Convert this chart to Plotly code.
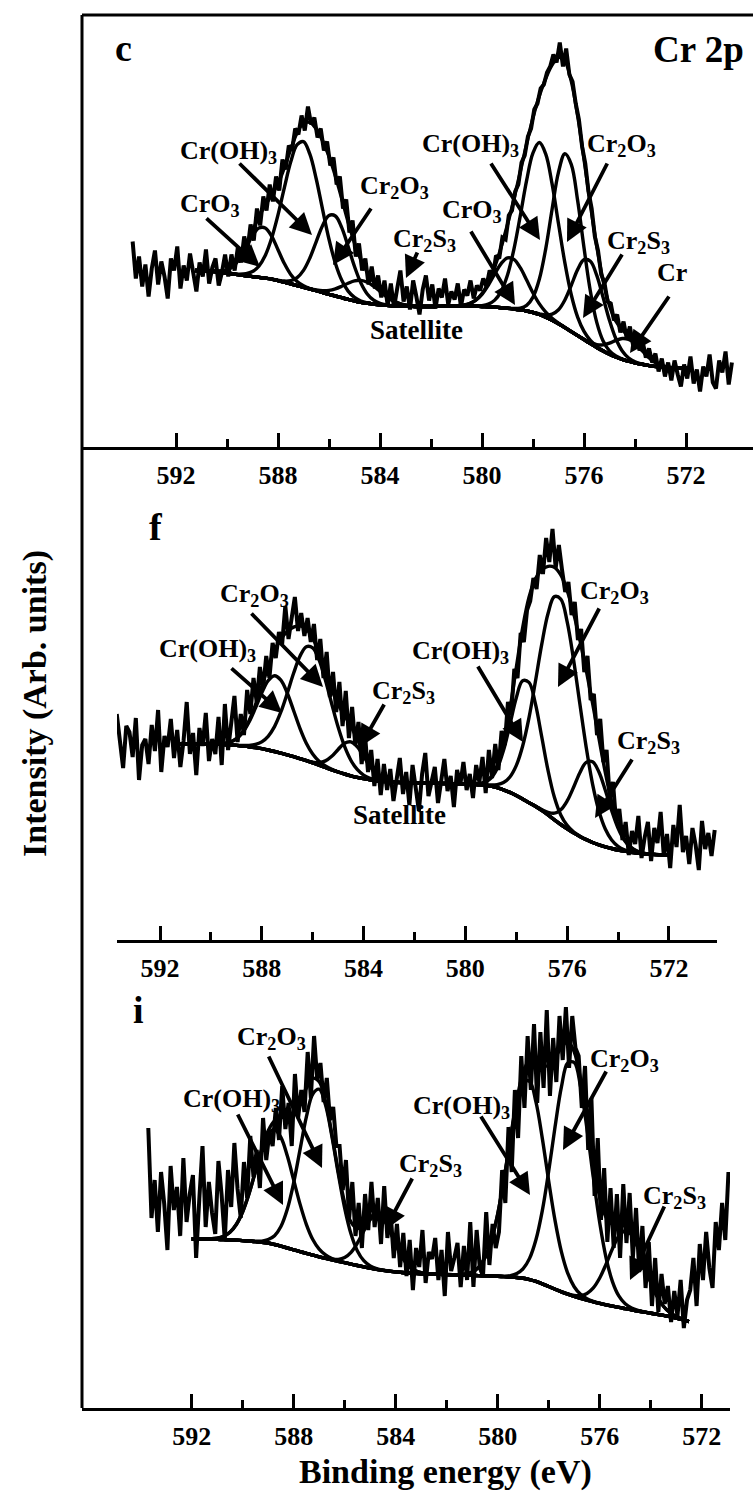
import numpy as np
import plotly.graph_objects as go

W, H = 753, 1498
SERIF = "Liberation Serif, Times New Roman, serif"

# ---------------- measured spectra (counts, arb. units) ----------------
E_START = 593.7     # eV, first channel
E_STEP = 0.125      # eV per channel

TOP_COUNTS = [
    205, 168, 190, 160, 182, 150, 178, 196, 162, 185, 170, 148, 188, 176, 200, 158, 181, 166, 193, 172,
    155, 184, 170, 197, 163, 179, 188, 161, 174, 192,
    170, 192, 176, 199, 184, 210, 196, 222, 206, 238,
    221, 250, 236, 262, 245, 270, 256, 287, 277, 301,
    296, 318, 312, 331, 316, 340, 322, 329, 309, 318,
    296, 305, 281, 289, 262, 270, 238, 247, 214, 226,
    190, 203, 176, 188, 162, 180, 158, 171, 149, 166,
    141, 163, 139, 158, 176, 145, 160, 137, 166, 150,
    132, 157, 171, 146, 162, 138, 158, 149, 168, 142,
    155, 147, 163, 140, 157, 151, 166, 148, 161, 156,
    168, 160, 176, 170, 191, 188, 209, 207, 231, 236,
    255, 262, 284, 291, 310, 318, 337, 343, 358, 362,
    374, 380, 392, 384, 404, 380, 398, 372, 365, 343,
    327, 300, 283, 255, 238, 210, 196, 172, 164, 145,
    143, 126, 132, 114, 125, 108, 120, 101, 113, 96,
    105, 89, 98, 84, 93, 75, 88, 70, 84, 66,
    86, 72, 60, 82, 68, 90, 63, 77, 55, 80,
    70, 92, 64, 58, 86, 74, 95, 62, 84,
]

MID_COUNTS = [
    226, 198, 172, 214, 208, 183, 222, 160, 195, 201,
    176, 215, 189, 230, 168, 204, 193, 221, 182, 210,
    173, 199, 238, 186, 207, 165, 212, 194, 227, 179,
    201, 186, 223, 175, 236, 190, 214, 244, 198, 226,
    205, 250, 226, 262, 238, 273, 251, 284, 262, 297,
    282, 308, 296, 334, 301, 320, 343, 309, 327, 304,
    322, 298, 316, 280, 301, 262, 288, 243, 268, 228,
    258, 214, 249, 202, 233, 195, 218, 176, 207, 168,
    190, 154, 181, 145, 176, 150, 171, 139, 163, 182,
    146, 168, 135, 175, 152, 129, 166, 187, 144, 160,
    173, 137, 158, 181, 149, 164, 133, 170, 155, 178,
    150, 166, 142, 175, 158, 183, 147, 190, 162, 196,
    170, 209, 195, 238, 225, 271, 262, 307, 298, 330,
    339, 362, 351, 385, 366, 402, 378, 411, 372, 395,
    370, 348, 358, 325, 338, 300, 311, 268, 284, 240,
    246, 205, 221, 178, 190, 142, 158, 118, 131, 100,
    118, 85, 109, 96, 124, 82, 103, 118, 79, 112,
    97, 128, 84, 106, 72, 115, 93, 135, 88, 104,
    76, 112, 95, 70, 119, 91, 107, 84, 110,
]

BOT_COUNTS = [
    280, 190, 228, 176, 236, 204, 158, 242, 198, 221,
    172, 250, 186, 214, 233, 150, 209, 262, 181, 226,
    195, 174, 247, 213, 168, 238, 201, 265, 219, 190,
    246, 210, 272, 231, 258, 220, 290, 248, 276, 262,
    300, 268, 322, 279, 305, 262, 334, 290, 318, 296,
    356, 310, 372, 328, 345, 306, 330, 288, 301, 262,
    262, 218, 248, 190, 226, 172, 205, 160, 214, 178,
    226, 181, 210, 164, 222, 170, 196, 150, 184, 141,
    175, 132, 168, 118, 160, 141, 178, 125, 156, 149,
    170, 128, 158, 112, 176, 137, 150, 165, 121, 162,
    128, 186, 121, 178, 140, 132, 196, 143, 184, 160,
    176, 238, 205, 281, 236, 318, 270, 352, 300, 372,
    318, 384, 305, 376, 320, 398, 312, 370, 326, 392,
    348, 401, 340, 392, 360, 352, 300, 342, 258, 310,
    212, 270, 188, 240, 166, 220, 160, 214, 150, 224,
    165, 215, 150, 200, 136, 182, 120, 166, 102, 150,
    96, 134, 104, 122, 86, 117, 92, 128, 80, 108,
    118, 150, 102, 164, 128, 176, 140, 120, 186, 158,
    205, 168, 236,
]

# ---------------- curve fits ----------------
FIT_STEP = 0.25     # eV between background nodes

# background (Shirley type) over each fit window, from high to low binding energy
TOP_FIT_START = 591.25
TOP_BACKGROUND = [
    176.0, 175.9, 175.5, 175.0, 174.3, 173.4, 172.5, 171.6, 170.8, 169.9,
    169.1, 168.3, 167.4, 165.9, 164.3, 162.6, 160.9, 159.2, 157.5, 155.8,
    154.0, 152.2, 150.5, 148.8, 147.1, 145.6, 144.2, 143.2, 142.4, 141.7,
    141.1, 140.7, 140.6, 140.3, 140.1, 140.0, 140.0, 140.0, 140.1, 140.2,
    140.3, 140.4, 140.4, 140.3, 140.2, 140.0, 139.7, 139.3, 138.8, 138.2,
    137.5, 136.6, 135.5, 134.0, 132.0, 129.4, 126.3, 122.7, 118.9, 114.9,
    110.9, 106.9, 102.9, 99.0, 95.4, 92.2, 89.5, 87.2, 85.3, 83.7,
    82.3, 81.1, 80.1, 79.4, 78.9, 78.5, 78.2, 78.0, 77.9,
]
MID_FIT_START = 591.5
MID_BACKGROUND = [
    196.3, 196.3, 196.3, 196.3, 196.2, 196.1, 196.0, 195.8, 195.5, 195.1,
    194.6, 194.0, 193.3, 192.4, 191.3, 190.0, 188.5, 186.9, 185.2, 183.4,
    181.4, 179.3, 177.1, 174.8, 172.5, 170.2, 168.0, 166.0, 164.2, 162.6,
    161.3, 160.2, 159.3, 158.6, 158.1, 157.7, 157.4, 157.2, 157.0, 156.9,
    156.8, 156.7, 156.6, 156.5, 156.4, 156.3, 156.1, 155.8, 155.3, 154.8,
    153.8, 152.3, 150.2, 147.6, 144.5, 141.0, 137.3, 133.7, 129.6, 125.0,
    120.1, 115.5, 111.2, 107.1, 103.6, 100.4, 97.5, 95.2, 93.2, 91.5,
    90.0, 88.8, 87.8, 87.0, 86.3, 85.8, 85.4, 85.1, 84.9,
]
BOT_FIT_START = 592.0
BOT_BACKGROUND = [
    169.0, 169.0, 168.9, 168.8, 168.6, 168.4, 168.1, 167.8, 167.4, 166.9,
    166.4, 165.7, 165.0, 163.5, 161.8, 160.0, 158.2, 156.4, 154.6, 152.8,
    151.2, 149.7, 148.2, 146.7, 145.3, 143.9, 142.5, 141.1, 139.8, 138.6,
    137.6, 136.8, 136.1, 135.5, 135.0, 134.6, 134.3, 134.0, 133.8, 133.6,
    133.4, 133.2, 133.0, 132.8, 132.6, 132.4, 132.2, 132.0, 131.7, 131.4,
    131.0, 130.5, 129.7, 128.4, 126.6, 124.2, 121.5, 118.8, 116.2, 113.8,
    111.6, 109.6, 107.8, 106.1, 104.6, 103.2, 101.9, 100.6, 99.4, 98.2,
    97.0, 95.9, 94.8, 93.7, 92.6, 91.4, 90.0, 88.3, 86.3,
]

# Gaussian components: centre (eV), height above background, FWHM (eV)
TOP_LABELS = ["Cr(OH)3", "Cr2O3", "CrO3", "Cr2S3", "Cr", "Cr(OH)3", "Cr2O3", "CrO3", "Cr2S3"]
TOP_CENTERS = [577.73, 576.68, 578.90, 575.83, 574.30, 587.05, 585.85, 588.60, 584.70]
TOP_HEIGHTS = [172, 175, 51, 83, 22, 146, 81, 51, 22]
TOP_FWHM = [1.65, 1.41, 1.53, 1.46, 1.41, 1.77, 1.53, 1.41, 1.65]

MID_LABELS = ["Cr(OH)3", "Cr2O3", "Cr2S3", "Cr(OH)3", "Cr2O3", "Cr2S3"]
MID_CENTERS = [577.60, 576.35, 575.05, 587.45, 586.10, 584.50]
MID_HEIGHTS = [122, 227, 81, 76, 116, 34]
MID_FWHM = [1.41, 1.93, 1.53, 1.65, 1.88, 1.30]

BOT_LABELS = ["Cr(OH)3", "Cr2O3", "Cr2S3", "Cr(OH)3", "Cr2O3", "Cr2S3"]
BOT_CENTERS = [578.85, 577.10, 574.95, 588.75, 587.05, 584.70]
BOT_HEIGHTS = [200, 236, 78, 115, 168, 55]
BOT_FWHM = [1.77, 1.77, 1.65, 1.77, 1.65, 1.41]

panels = [
    dict(counts=TOP_COUNTS, fit0=TOP_FIT_START, bg=TOP_BACKGROUND,
         c=TOP_CENTERS, h=TOP_HEIGHTS, w=TOP_FWHM),
    dict(counts=MID_COUNTS, fit0=MID_FIT_START, bg=MID_BACKGROUND,
         c=MID_CENTERS, h=MID_HEIGHTS, w=MID_FWHM),
    dict(counts=BOT_COUNTS, fit0=BOT_FIT_START, bg=BOT_BACKGROUND,
         c=BOT_CENTERS, h=BOT_HEIGHTS, w=BOT_FWHM),
]

fig = go.Figure()
for i, p in enumerate(panels):
    xa = "x" if i == 0 else f"x{i + 1}"
    ya = "y" if i == 0 else f"y{i + 1}"
    bg = np.asarray(p["bg"], float)
    e_fit = p["fit0"] - FIT_STEP * np.arange(len(bg))
    thin = dict(color="black", width=3.4, shape="spline")
    fig.add_trace(go.Scatter(x=e_fit, y=bg, mode="lines", line=thin, xaxis=xa, yaxis=ya))
    total = np.zeros_like(bg)
    for c, h, w in zip(p["c"], p["h"], p["w"]):
        sigma = w / 2.3548
        peak = h * np.exp(-0.5 * ((e_fit - c) / sigma) ** 2)
        total += peak
        fig.add_trace(go.Scatter(x=e_fit, y=bg + peak, mode="lines", line=thin, xaxis=xa, yaxis=ya))
    fig.add_trace(go.Scatter(x=e_fit, y=bg + total, mode="lines", line=thin, xaxis=xa, yaxis=ya))
    counts = np.asarray(p["counts"], float)
    energy = E_START - E_STEP * np.arange(len(counts))
    fig.add_trace(go.Scatter(x=energy, y=counts, mode="lines",
                             line=dict(color="black", width=4), xaxis=xa, yaxis=ya))


def fy(py):
    return 1 - py / H


TICK_MAJOR = [592, 588, 584, 580, 576, 572]
TICK_MINOR = [590, 586, 582, 578, 574]


def xaxis(dom, rng, anchor):
    return dict(domain=[dom[0] / W, dom[1] / W], range=rng, anchor=anchor,
                showline=True, linewidth=3, linecolor="black", mirror=False,
                ticks="inside", ticklen=14, tickwidth=3, tickcolor="black",
                tickvals=TICK_MAJOR, ticktext=[f"<b>{t}</b>" for t in TICK_MAJOR],
                minor=dict(tickvals=TICK_MINOR, ticks="inside", ticklen=8, tickwidth=3,
                           tickcolor="black"),
                tickfont=dict(family=SERIF, size=26, color="black"),
                ticklabelstandoff=3, showgrid=False, zeroline=False)


def yaxis(top, bottom, anchor):
    return dict(domain=[fy(bottom), fy(top)], range=[0, bottom - top], anchor=anchor,
                visible=False)


fig.update_layout(
    width=W, height=H, margin=dict(l=0, r=0, t=0, b=0),
    paper_bgcolor="white", plot_bgcolor="rgba(0,0,0,0)", showlegend=False,
    xaxis=xaxis((82, 753), [595.686, 569.373], "y"),
    yaxis=yaxis(15, 446.5, "x"),
    xaxis2=xaxis((117, 717), [593.69, 570.11], "y2"),
    yaxis2=yaxis(446.5, 940, "x2"),
    xaxis3=xaxis((82, 730), [596.30, 570.89], "y3"),
    yaxis3=yaxis(940, 1408, "x3"),
)

# frame: left edge and top edge
fig.add_shape(type="line", xref="paper", yref="paper", x0=82 / W, x1=82 / W, y0=fy(15), y1=fy(1408),
              line=dict(color="black", width=3))
fig.add_shape(type="line", xref="paper", yref="paper", x0=82 / W, x1=1, y0=fy(15), y1=fy(15),
              line=dict(color="black", width=3))


def label(px, py, text, size=26):
    fig.add_annotation(x=px / W, y=fy(py), xref="paper", yref="paper", text=f"<b>{text}</b>",
                       showarrow=False, font=dict(family=SERIF, size=size, color="black"),
                       xanchor="center", yanchor="middle")


def arrow(x0, y0, x1, y1):
    fig.add_annotation(x=x1 / W, y=fy(y1), ax=x0 - x1, ay=y0 - y1, xref="paper", yref="paper",
                       text="", showarrow=True, arrowhead=2, arrowsize=1.15, arrowwidth=3.8,
                       arrowcolor="black", standoff=0, startstandoff=0)


CROH = "Cr(OH)<sub>3</sub>"
CR2O3 = "Cr<sub>2</sub>O<sub>3</sub>"
CRO3 = "CrO<sub>3</sub>"
CR2S3 = "Cr<sub>2</sub>S<sub>3</sub>"

label(123, 48, "c", 38)
label(698, 50, "Cr 2p", 37)
label(210, 205, CRO3); arrow(205, 217, 260, 267)
label(228, 152, CROH); arrow(238, 162, 312, 235)
label(394, 187, CR2O3); arrow(372, 207, 333, 265)
label(424, 240, CR2S3); arrow(418, 251, 406, 278)
label(417, 330, "Satellite", 27)
label(470, 145, CROH); arrow(490, 162, 540, 240)
label(621, 145, CR2O3); arrow(608, 162, 567, 242)
label(472, 211, CRO3); arrow(470, 230, 515, 305)
label(638, 242, CR2S3); arrow(623, 253, 583, 318)
label(672, 273, "Cr"); arrow(670, 295, 630, 353)

label(156, 527, "f", 38)
label(255, 595, CR2O3); arrow(250, 612, 323, 687)
label(208, 650, CROH); arrow(230, 667, 282, 713)
label(403, 692, CR2S3); arrow(385, 703, 360, 747)
label(399, 815, "Satellite", 27)
label(460, 652, CROH); arrow(477, 665, 523, 742)
label(614, 592, CR2O3); arrow(600, 607, 558, 687)
label(648, 742, CR2S3); arrow(633, 758, 595, 818)

label(138, 1010, "i", 38)
label(271, 1038, CR2O3); arrow(268, 1055, 322, 1168)
label(231, 1100, CROH); arrow(237, 1113, 283, 1205)
label(430, 1165, CR2S3); arrow(413, 1177, 385, 1230)
label(461, 1107, CROH); arrow(480, 1115, 530, 1195)
label(624, 1060, CR2O3); arrow(607, 1070, 563, 1150)
label(674, 1197, CR2S3); arrow(665, 1205, 630, 1280)

fig.add_annotation(x=445 / W, y=fy(1472), xref="paper", yref="paper",
                   text="<b>Binding energy (eV)</b>", showarrow=False,
                   xanchor="center", yanchor="middle",
                   font=dict(family=SERIF, size=34, color="black"))
fig.add_annotation(x=35 / W, y=fy(704), xref="paper", yref="paper",
                   text="<b>Intensity (Arb. units)</b>", showarrow=False, textangle=-90,
                   xanchor="center", yanchor="middle",
                   font=dict(family=SERIF, size=34, color="black"))

fig.write_html("out.html")
